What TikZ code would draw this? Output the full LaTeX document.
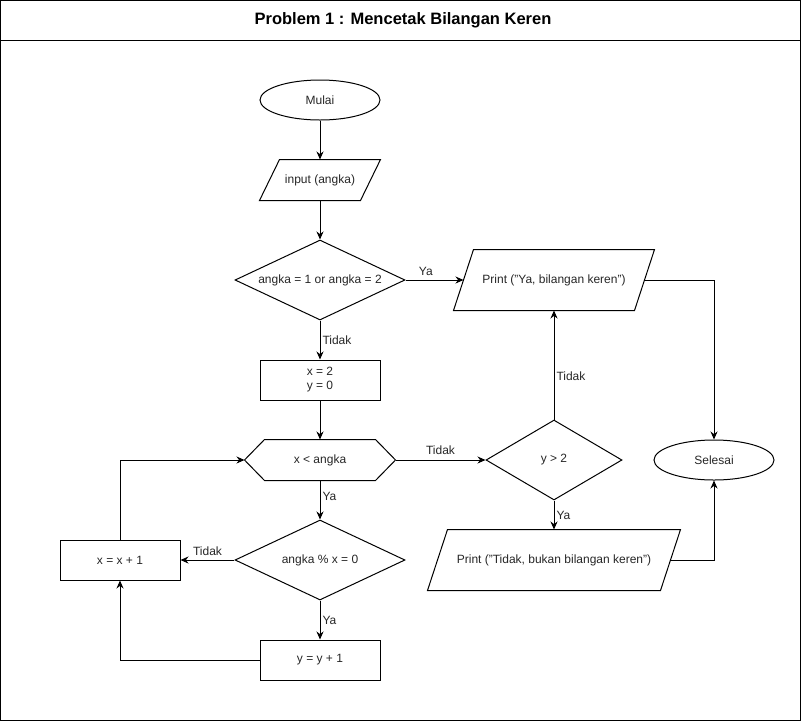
\documentclass[tikz,border=0pt]{standalone}
\usepackage{fontspec}
\setmainfont{Liberation Sans}
\usetikzlibrary{shapes.geometric,arrows.meta}

\tikzset{
  base/.style={draw, line width=1pt, inner sep=0pt, text=black!85, font=\fontsize{12}{14}\selectfont},
  terminal/.style={base, ellipse, minimum width=120, minimum height=40},
  process/.style={base, rectangle, minimum width=120, minimum height=40, align=center},
  decision/.style={base, diamond, aspect=2.125, minimum width=170, minimum height=80},
  iobox/.style={base, draw=none, rectangle, minimum height=60},
  hexbox/.style={base, draw=none, rectangle, minimum width=150, minimum height=40},
  outline/.style={line width=1pt},
  flow/.style={-{Stealth[length=8pt,width=7pt]}, line width=1pt},
  lbl/.style={inner sep=2pt, text=black!85, font=\fontsize{12}{14}\selectfont}
}
% parallelogram and hexagon round a named node
\newcommand{\ioshape}[1]{\draw[outline] ([xshift=20pt]#1.north west) -- (#1.north east)
  -- ([xshift=-20pt]#1.south east) -- (#1.south west) -- cycle;}
\newcommand{\hexshape}[1]{\draw[outline] (#1.west) -- ([xshift=20pt]#1.north west) -- ([xshift=-20pt]#1.north east)
  -- (#1.east) -- ([xshift=-20pt]#1.south east) -- ([xshift=20pt]#1.south west) -- cycle;}

\begin{document}
\begin{tikzpicture}[x=1pt, y=-1pt]
    \useasboundingbox (0,0) rectangle (801,721);
    \draw[outline] (0.5,0.5) rectangle (800.5,720.5);
    \draw[outline] (0.5,40.5) -- (800.5,40.5);
    \node (title) at (403,20) {\fontsize{16.5}{18}\selectfont\bfseries Problem 1 : Mencetak Bilangan Keren};

    % left column
    \node[terminal] (mulai) at (320,100) {Mulai};
    \node[iobox, minimum width=120, minimum height=40] (inp) at (320,180) {input (angka)};
    \ioshape{inp}
    \node[decision] (d1) at (320,280) {angka = 1 or angka = 2};
    \node[process] (init) at (320,380) {x = 2\\y = 0};
    \node[hexbox] (hx) at (320,460) {x {\textless} angka};
    \hexshape{hx}
    \node[decision] (d2) at (320,560) {angka \% x = 0};
    \node[process] (yinc) at (320,660) {y = y + 1};
    \node[process] (xinc) at (120,560) {x = x + 1};

    % right side
    \node[iobox, minimum width=200] (pya) at (554,280) {Print ("Ya, bilangan keren")};
    \ioshape{pya}
    \node[decision, minimum width=136] (yd) at (554,460) {y {\textgreater} 2};
    \node[iobox, minimum width=252] (pti) at (554,560) {Print ("Tidak, bukan bilangan keren")};
    \ioshape{pti}
    \node[terminal] (sel) at (714,460) {Selesai};

    \draw[flow] (mulai) -- (inp);
    \draw[flow] (inp) -- (d1);
    \draw[flow] (d1) -- node[lbl, above=2pt, pos=0.35] {Ya} ([xshift=10pt]pya.west);
    \draw[flow] (d1) -- node[lbl, right] {Tidak} (init);
    \draw[flow] (init) -- (hx);
    \draw[flow] (hx) -- node[lbl, above=3pt] {Tidak} (yd);
    \draw[flow] (hx) -- node[lbl, right, pos=0.4] {Ya} (d2);
    \draw[flow] (yd) -- node[lbl, right, pos=0.4] {Tidak} (pya);
    \draw[flow] (yd) -- node[lbl, right] {Ya} (pti);
    \draw[flow] ([xshift=-10pt]pya.east) -| (sel);
    \draw[flow] ([xshift=-10pt]pti.east) -| (sel);
    \draw[flow] (d2) -- node[lbl, above=2pt] {Tidak} (xinc);
    \draw[flow] (d2) -- node[lbl, right] {Ya} (yinc);
    \draw[flow] (xinc) |- (hx);
    \draw[flow] (yinc) -| (xinc);
  \end{tikzpicture}
\end{document}
